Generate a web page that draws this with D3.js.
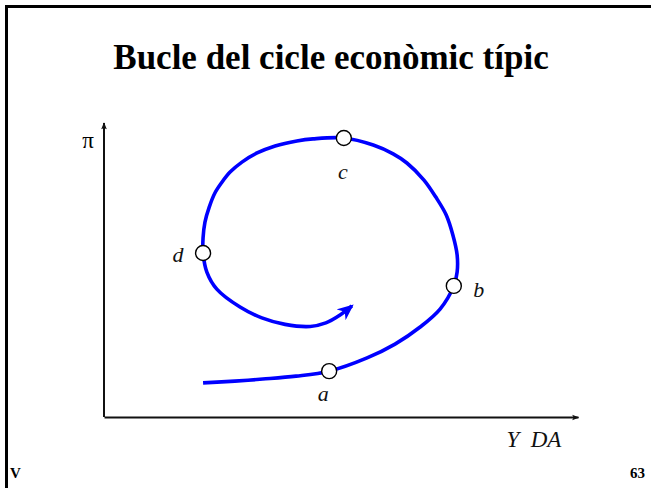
<!DOCTYPE html>
<html>
<head>
<meta charset="utf-8">
<script src="https://cdn.jsdelivr.net/npm/d3@7"></script>
<style>
  body { margin: 0; background: #fff; }
  svg { display: block; }
  .lbl { font-family: "Liberation Serif", serif; font-style: italic; font-size: 22px; fill: #111; }
</style>
</head>
<body>
<script>
// path of the cycle (x = output, y = inflation)
const loopX = [20.9, 27.6, 33.5, 40.5, 47.5, 55.5, 61.4, 66.7, 70.9, 73.8, 74.5, 74.5,
               73.6, 72.2, 70.0, 67.5, 63.9, 61.0, 56.8, 50.6, 44.1, 40.7, 36.1, 32.3,
               29.1, 26.6, 24.9, 23.4, 22.2, 21.3, 20.9, 20.9, 21.7, 23.8, 28.7, 33.3,
               38.2, 43.5, 46.8, 49.8, 52.3];
const loopY = [11.6, 12.2, 12.9, 13.9, 15.6, 20.1, 24.8, 30.6, 36.7, 44.6, 49.3, 55.1,
               61.9, 68.7, 74.8, 80.6, 86.4, 89.5, 92.5, 94.9, 94.6, 93.9, 92.2, 89.8,
               86.7, 83.3, 79.9, 76.2, 71.4, 66.3, 60.9, 55.8, 49.3, 43.5, 37.4, 33.7,
               31.5, 30.8, 32.0, 34.7, 37.8];

// the four marked phases
const phaseNames = ["a", "b", "c", "d"];
const phaseX = [47.5, 73.8, 50.6, 20.9];
const phaseY = [15.6, 44.6, 94.9, 55.8];

const titleText = "Bucle del cicle econòmic típic";
const xLabel = "Y  DA";
const yLabel = "π";

const W = 651, H = 488;

const x = d3.scaleLinear().domain([0, 100]).range([104, 578]);
const y = d3.scaleLinear().domain([0, 100]).range([417, 123]);

const svg = d3.select("body").append("svg")
  .attr("width", W)
  .attr("height", H);

const defs = svg.append("defs");

// small arrow for the axes
defs.append("marker")
  .attr("id", "axisArrow")
  .attr("viewBox", "0 -5 10 10")
  .attr("refX", 9).attr("refY", 0)
  .attr("markerUnits", "userSpaceOnUse")
  .attr("markerWidth", 9).attr("markerHeight", 7)
  .attr("orient", "auto")
  .append("path")
  .attr("d", "M0,-4L10,0L0,4L2,0Z")
  .attr("fill", "#111");

// barbed arrow for the loop
defs.append("marker")
  .attr("id", "loopArrow")
  .attr("viewBox", "0 -6 14 12")
  .attr("refX", 12).attr("refY", 0)
  .attr("markerUnits", "userSpaceOnUse")
  .attr("markerWidth", 17).attr("markerHeight", 14)
  .attr("orient", "auto")
  .append("path")
  .attr("d", "M0,-6L14,0L0,6L4,0Z")
  .attr("fill", "#0000ff");

// frame (only top and left edges show)
svg.append("path")
  .attr("d", "M6.5," + H + "V6.5H" + W)
  .attr("fill", "none")
  .attr("stroke", "#000")
  .attr("stroke-width", 3);

svg.append("text")
  .attr("x", 331)
  .attr("y", 69)
  .attr("text-anchor", "middle")
  .style("font-family", "'Liberation Serif', serif")
  .style("font-weight", "bold")
  .style("font-size", "35px")
  .text(titleText);

// axes
const xAxis = svg.append("g")
  .attr("transform", "translate(0," + y(0) + ")")
  .call(d3.axisBottom(x).tickValues([]).tickSizeOuter(0));
const yAxis = svg.append("g")
  .attr("transform", "translate(" + x(0) + ",0)")
  .call(d3.axisLeft(y).tickValues([]).tickSizeOuter(0));

xAxis.select(".domain").attr("stroke", "#111").attr("stroke-width", 2)
  .attr("marker-end", "url(#axisArrow)");
yAxis.select(".domain").attr("stroke", "#111").attr("stroke-width", 2)
  .attr("d", "M0," + y(0) + "V" + y(100))
  .attr("marker-end", "url(#axisArrow)");

svg.append("text")
  .attr("x", x(0) - 16)
  .attr("y", y(91.5))
  .attr("text-anchor", "middle")
  .style("font-family", "'Liberation Serif', serif")
  .style("font-size", "23px")
  .text(yLabel);

svg.append("text")
  .attr("class", "lbl")
  .attr("x", x(90.7))
  .attr("y", 447)
  .attr("text-anchor", "middle")
  .attr("xml:space", "preserve")
  .style("white-space", "pre")
  .style("font-size", "23px")
  .text(xLabel);

// the loop
const pts = loopX.map((v, i) => [v, loopY[i]]);
const line = d3.line()
  .x(d => x(d[0]))
  .y(d => y(d[1]))
  .curve(d3.curveCatmullRom.alpha(0.5));

svg.append("path")
  .datum(pts)
  .attr("d", line)
  .attr("fill", "none")
  .attr("stroke", "#0000ff")
  .attr("stroke-width", 3.6)
  .attr("stroke-linecap", "butt")
  .attr("marker-end", "url(#loopArrow)");

// phase markers
const phases = phaseNames.map((n, i) => ({ name: n, px: phaseX[i], py: phaseY[i] }));
const offs = { a: [-6, 30], b: [25, 11], c: [-1, 41], d: [-25, 9] };

svg.selectAll(".phase")
  .data(phases)
  .enter().append("circle")
  .attr("class", "phase")
  .attr("cx", d => x(d.px))
  .attr("cy", d => y(d.py))
  .attr("r", 7.5)
  .attr("fill", "#fff")
  .attr("stroke", "#000")
  .attr("stroke-width", 1.4);

svg.selectAll(".plbl")
  .data(phases)
  .enter().append("text")
  .attr("class", "lbl")
  .attr("x", d => x(d.px) + offs[d.name][0])
  .attr("y", d => y(d.py) + offs[d.name][1])
  .attr("text-anchor", "middle")
  .text(d => d.name);

// footer
svg.append("text")
  .attr("x", 10).attr("y", 478)
  .style("font-family", "'Liberation Serif', serif")
  .style("font-weight", "bold")
  .style("font-size", "15px")
  .text("V");
svg.append("text")
  .attr("x", 645).attr("y", 478)
  .attr("text-anchor", "end")
  .style("font-family", "'Liberation Serif', serif")
  .style("font-weight", "bold")
  .style("font-size", "15px")
  .text("63");
</script>
</body>
</html>
